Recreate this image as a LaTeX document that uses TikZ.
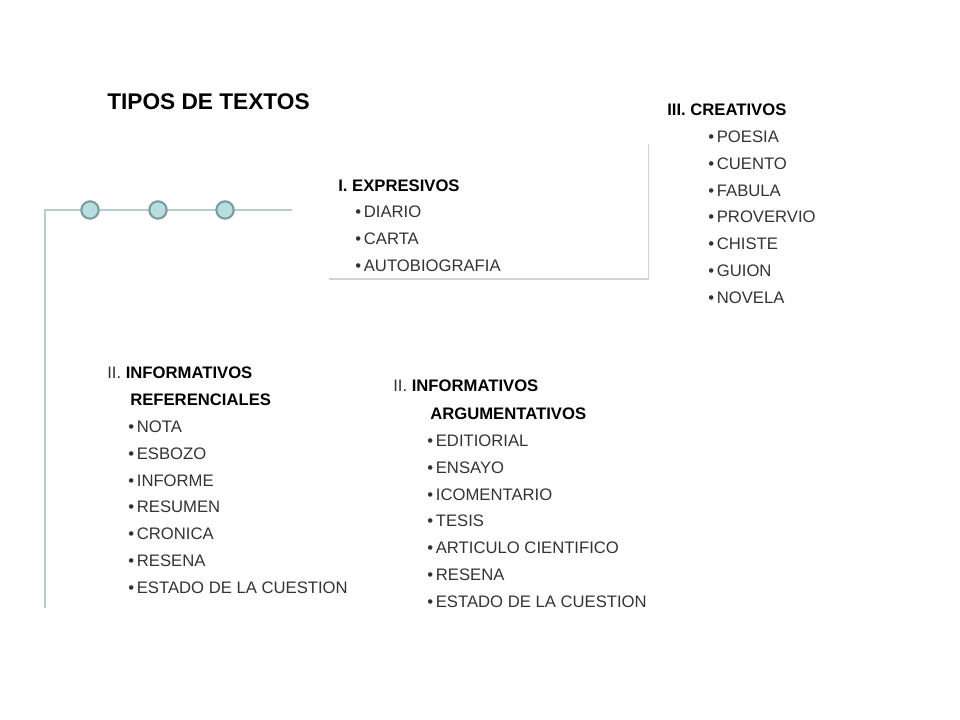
\documentclass[tikz,border=0pt]{standalone}
\usepackage{fontspec}
\setmainfont{Liberation Sans}
\usetikzlibrary{shadows}
\definecolor{linec}{HTML}{B7CDD0}
\definecolor{circf}{HTML}{B9DEE0}
\definecolor{circd}{HTML}{7E9C9E}
\definecolor{txt}{HTML}{333333}
\tikzset{
 lbl/.style={anchor=west,inner sep=0pt,font=\fontsize{12.5pt}{14pt}\selectfont,text=txt},
 hd/.style={lbl,font=\fontsize{12.5pt}{14pt}\selectfont\bfseries,text=black},
 dotc/.style={circle,minimum size=13pt,inner sep=0pt,fill=circf,draw=circd,line width=1.6pt},
 ln/.style={draw=linec,line width=0.9pt}
}
\newcommand{\itm}{\textbullet\,}
\begin{document}
\begin{tikzpicture}[x=0.75pt,y=-0.75pt]
\useasboundingbox (0,0) rectangle (960,720);
\coordinate (h0) at (45,210);
\coordinate (h1) at (292,210);
\coordinate (v1) at (45,608);
\draw[ln] (h1) -- (h0) -- (v1);
\node[dotc] (c1) at (90,210) {};
\node[dotc] (c2) at (158,210) {};
\node[dotc] (c3) at (225,210) {};
\node[fill=white,drop shadow={opacity=0.35,shadow xshift=1pt,shadow yshift=-1.5pt},minimum width=240pt,minimum height=102pt,inner sep=0pt] (box) at (488,210) {};
\node[anchor=west,inner sep=0pt,font=\fontsize{17pt}{20pt}\selectfont\bfseries] (title) at (107,102) {TIPOS DE TEXTOS};
% expresivos
\node[hd] (e0) at (338,186) {I. EXPRESIVOS};
\node[lbl] (e1) at (355,212) {\itm DIARIO};
\node[lbl] (e2) at (355,239) {\itm CARTA};
\node[lbl] (e3) at (355,266) {\itm AUTOBIOGRAFIA};
% creativos
\node[hd] (k0) at (667,110) {III. CREATIVOS};
\foreach \t [count=\i] in {POESIA,CUENTO,FABULA,PROVERVIO,CHISTE,GUION,NOVELA}
  \node[lbl] (k\i) at (708,{110+26.8*\i}) {\itm \t};
% referenciales
\node[lbl] (r0) at (107,373) {II. \textbf{\color{black}INFORMATIVOS}};
\node[hd] (r00) at (130,400) {REFERENCIALES};
\foreach \t [count=\i] in {NOTA,ESBOZO,INFORME,RESUMEN,CRONICA,RESENA,ESTADO DE LA CUESTION}
  \node[lbl] (r\i) at (128,{400+26.8*\i}) {\itm \t};
% argumentativos
\node[lbl] (a0) at (393,386) {II. \textbf{\color{black}INFORMATIVOS}};
\node[hd] (a00) at (430,414) {ARGUMENTATIVOS};
\foreach \t [count=\i] in {EDITIORIAL,ENSAYO,ICOMENTARIO,TESIS,ARTICULO CIENTIFICO,RESENA,ESTADO DE LA CUESTION}
  \node[lbl] (a\i) at (427,{414+26.8*\i}) {\itm \t};
\end{tikzpicture}
\end{document}
